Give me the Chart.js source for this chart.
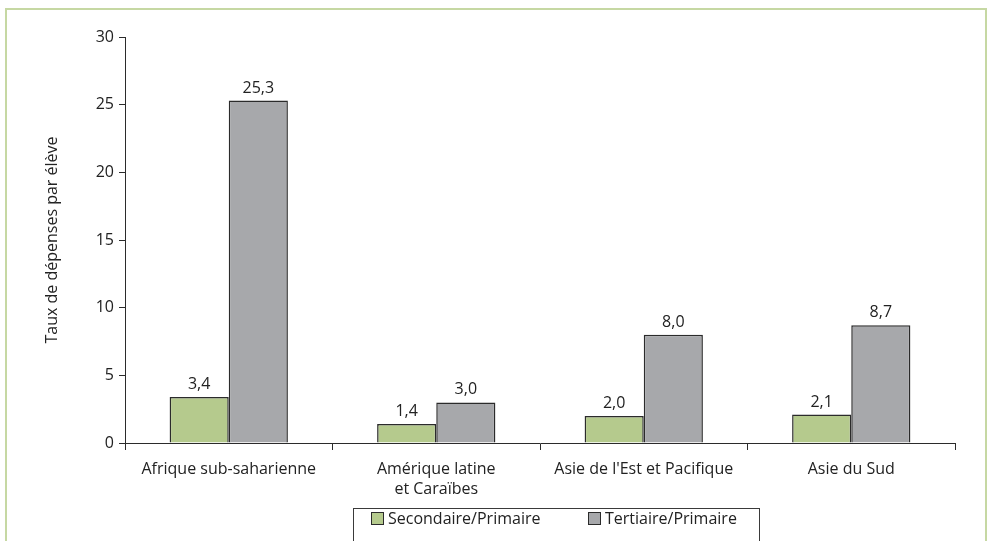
<!DOCTYPE html>
<html>
<head>
<meta charset="utf-8">
<script src="https://cdn.jsdelivr.net/npm/chart.js@4/dist/chart.umd.min.js"></script>
<style>
  html, body { margin: 0; padding: 0; background: #ffffff; }
  #wrap { position: relative; width: 992px; height: 541px; }
  canvas { display: block; }
</style>
</head>
<body>
<div id="wrap"><canvas id="chart" width="992" height="541"></canvas></div>
<script>
// Régions et ratios de dépenses par élève
const categories = [
  "Afrique sub-saharienne",
  ["Amérique latine", "et Caraïbes"],
  "Asie de l'Est et Pacifique",
  "Asie du Sud"
];
const secondaireLabel = "Secondaire/Primaire";
const tertiaireLabel = "Tertiaire/Primaire";
const secondaire = [3.4, 1.4, 2.0, 2.1];
const tertiaire = [25.3, 3.0, 8.0, 8.7];
const yTicks = [0, 5, 10, 15, 20, 25, 30];
const yTitle = "Taux de dépenses par élève";

const FONT = "'Open Sans', 'Noto Sans', sans-serif";
const SIZE = 16;
const GREEN = "#b5ca8d";
const GREY = "#a7a8ab";
const EDGE = "#2b2b2b";
const TEXT = "#222222";

const fmt = v => v.toFixed(1).replace(".", ",");

// Cadre vert clair autour de la figure
const framePlugin = {
  id: "frame",
  beforeDraw(chart) {
    const ctx = chart.ctx;
    ctx.save();
    ctx.fillStyle = "#ffffff";
    ctx.fillRect(0, 0, chart.width, chart.height);
    ctx.strokeStyle = "#c6d8a3";
    ctx.lineWidth = 2;
    ctx.strokeRect(6, 9, 980, chart.height + 20);
    ctx.restore();
  }
};

// Valeurs au-dessus des barres
const valueLabels = {
  id: "valueLabels",
  afterDatasetsDraw(chart) {
    const ctx = chart.ctx;
    ctx.save();
    ctx.font = SIZE + "px " + FONT;
    ctx.fillStyle = TEXT;
    ctx.textAlign = "center";
    ctx.textBaseline = "alphabetic";
    chart.data.datasets.forEach((ds, i) => {
      chart.getDatasetMeta(i).data.forEach((bar, j) => {
        ctx.fillText(fmt(ds.data[j]), bar.x, bar.y - 8);
      });
    });
    ctx.restore();
  }
};

// Légende encadrée sous le graphique
const boxedLegend = {
  id: "boxedLegend",
  afterDraw(chart) {
    const ctx = chart.ctx;
    ctx.save();
    ctx.strokeStyle = "#3a3a3a";
    ctx.lineWidth = 1;
    ctx.strokeRect(353.5, 508.5, 406, 50);
    const items = [
      { x: 371, label: chart.data.datasets[0].label, color: chart.data.datasets[0].backgroundColor },
      { x: 588, label: chart.data.datasets[1].label, color: chart.data.datasets[1].backgroundColor }
    ];
    ctx.font = SIZE + "px " + FONT;
    ctx.textBaseline = "middle";
    ctx.textAlign = "left";
    items.forEach(it => {
      ctx.fillStyle = it.color;
      ctx.fillRect(it.x + 0.5, 512.5, 12, 12);
      ctx.strokeStyle = EDGE;
      ctx.strokeRect(it.x + 0.5, 512.5, 12, 12);
      ctx.fillStyle = TEXT;
      ctx.fillText(it.label, it.x + 17, 519);
    });
    ctx.restore();
  }
};

new Chart(document.getElementById("chart"), {
  type: "bar",
  data: {
    labels: categories,
    datasets: [
      {
        label: secondaireLabel,
        data: secondaire,
        backgroundColor: GREEN,
        borderColor: EDGE,
        borderWidth: 1.5,
        categoryPercentage: 0.57,
        barPercentage: 1.0
      },
      {
        label: tertiaireLabel,
        data: tertiaire,
        backgroundColor: GREY,
        borderColor: EDGE,
        borderWidth: 1.5,
        categoryPercentage: 0.57,
        barPercentage: 1.0
      }
    ]
  },
  options: {
    responsive: false,
    animation: false,
    devicePixelRatio: 1,
    layout: { padding: { left: 0, right: 37, top: 37, bottom: 0 } },
    plugins: {
      legend: { display: false },
      tooltip: { enabled: false }
    },
    scales: {
      x: {
        grid: {
          offset: true,
          drawOnChartArea: false,
          drawTicks: true,
          tickLength: 7,
          color: EDGE
        },
        border: { color: EDGE, width: 1 },
        ticks: {
          color: TEXT,
          font: { family: FONT, size: SIZE, lineHeight: 1.25 },
          padding: 9,
          maxRotation: 0,
          autoSkip: false
        },
        afterFit(scale) { scale.height = 98; }
      },
      y: {
        min: 0,
        max: 30,
        afterBuildTicks(scale) { scale.ticks = yTicks.map(v => ({ value: v })); },
        grid: {
          drawOnChartArea: false,
          drawTicks: true,
          tickLength: 6,
          color: EDGE
        },
        border: { color: EDGE, width: 1 },
        ticks: {
          color: TEXT,
          font: { family: FONT, size: SIZE },
          padding: 5
        },
        title: {
          display: true,
          text: yTitle,
          color: TEXT,
          font: { family: FONT, size: SIZE },
          padding: { top: 43, bottom: 0 }
        },
        afterFit(scale) { scale.width = 125; }
      }
    }
  },
  plugins: [framePlugin, valueLabels, boxedLegend]
});
</script>
</body>
</html>
